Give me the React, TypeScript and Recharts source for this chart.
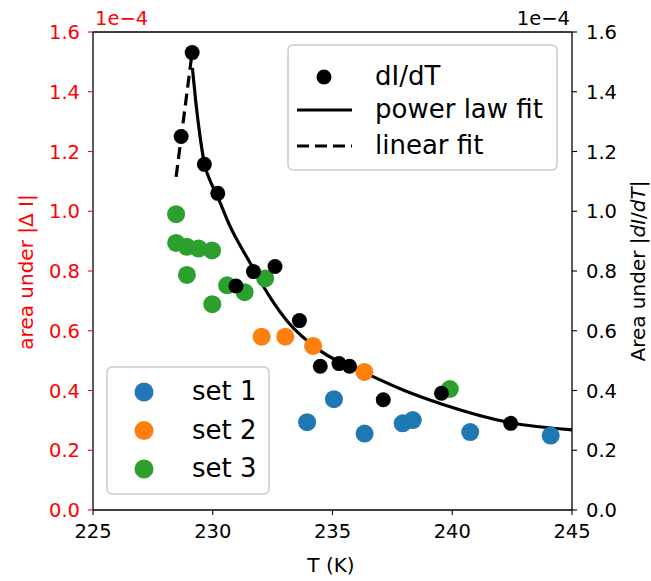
import React from 'react';
import { ComposedChart, XAxis, YAxis, Scatter, Line, ReferenceLine } from 'recharts';

// ---- tick values ----
const xTicks = [225, 230, 235, 240, 245];
const yTicks = [0, 0.2, 0.4, 0.6, 0.8, 1.0, 1.2, 1.4, 1.6];

// ---- set 1 (blue) ----
const set1T = [233.94, 235.06, 236.34, 237.93, 238.35, 240.75, 244.11];
const set1A = [0.294, 0.371, 0.256, 0.29, 0.301, 0.261, 0.249];

// ---- set 2 (orange) ----
const set2T = [232.04, 233.03, 234.19, 236.33];
const set2A = [0.58, 0.58, 0.549, 0.462];

// ---- set 3 (green) ----
const set3T = [228.47, 228.47, 228.92, 229.41, 229.97, 228.92, 229.98, 230.6, 231.33, 232.19, 239.9];
const set3A = [0.99, 0.894, 0.881, 0.875, 0.869, 0.787, 0.689, 0.752, 0.729, 0.775, 0.405];

// ---- dI/dT (black) ----
const dIdtT = [229.14, 228.68, 229.65, 230.21, 230.97, 231.7, 232.6, 233.62, 234.49, 235.27, 235.71, 237.12, 239.55, 242.44];
const dIdtA = [1.531, 1.25, 1.157, 1.06, 0.75, 0.798, 0.815, 0.634, 0.481, 0.49, 0.481, 0.369, 0.391, 0.29];

// ---- power law fit ----
const powerT = [229.15, 229.3, 229.47, 229.65, 229.9, 230.14, 230.72, 231.61, 232.41, 233.13, 234.54, 236.33, 238.0, 239.55, 242.45, 245.0];
const powerA = [1.48, 1.36, 1.25, 1.16, 1.1, 1.06, 0.95, 0.82, 0.71, 0.63, 0.53, 0.46, 0.4, 0.355, 0.292, 0.268];

// ---- linear fit ----
const linT = [228.47, 229.12];
const linA = [1.115, 1.52];

// ---- legend labels ----
const setNames = ['set 1', 'set 2', 'set 3'];
const setColors = ['#1f77b4', '#ff7f0e', '#2ca02c'];
const fitNames = ['dI/dT', 'power law fit', 'linear fit'];

const zip = (t: number[], a: number[]) => t.map((T, i) => ({ T, A: a[i] }));

const set1 = zip(set1T, set1A);
const set2 = zip(set2T, set2A);
const set3 = zip(set3T, set3A);
const dIdt = zip(dIdtT, dIdtA);
const power = zip(powerT, powerA);
const lin = zip(linT, linA);

const FONT = 'DejaVu Sans, sans-serif';
const TICK_FS = 19.5;
const TITLE_FS = 20;
const LEG_FS = 26;

const dot = (fill: string, r: number) => (props: any) =>
  props.cx == null ? null : <circle cx={props.cx} cy={props.cy} r={r} fill={fill} />;

const LeftTick = (props: any) => {
  const { x, y, payload } = props;
  return (
    <text x={x} y={y} dy="0.36em" textAnchor="end" fill="#ff0000" fontSize={TICK_FS} fontFamily={FONT}>
      {payload.value.toFixed(1)}
    </text>
  );
};
const RightTick = (props: any) => {
  const { x, y, payload } = props;
  return (
    <text x={x} y={y} dy="0.36em" textAnchor="start" fill="#000" fontSize={TICK_FS} fontFamily={FONT}>
      {payload.value.toFixed(1)}
    </text>
  );
};
const BottomTick = (props: any) => {
  const { x, y, payload } = props;
  return (
    <text x={x} y={y} dy="0.73em" textAnchor="middle" fill="#000" fontSize={TICK_FS} fontFamily={FONT}>
      {payload.value}
    </text>
  );
};

const Decorations = () => (
  <g fontFamily={FONT}>
    {/* offset texts */}
    <text x={95} y={25} fill="#ff0000" fontSize={TICK_FS}>1e−4</text>
    <text x={570} y={25} fill="#000" fontSize={TICK_FS} textAnchor="end">1e−4</text>
    {/* axis titles */}
    <text x={331} y={572} textAnchor="middle" fontSize={TITLE_FS} fill="#000">T (K)</text>
    <text
      transform="translate(26,272) rotate(-90)"
      dy="0.36em"
      textAnchor="middle"
      fontSize={TITLE_FS}
      fill="#ff0000"
    >
      area under |Δ I|
    </text>
    <text
      transform="translate(638,271) rotate(-90)"
      dy="0.36em"
      textAnchor="middle"
      fontSize={TITLE_FS}
      fill="#000"
    >
      Area under |<tspan fontStyle="italic">dI</tspan>/<tspan fontStyle="italic">dT</tspan>|
    </text>

    {/* top-right legend */}
    <rect x={288} y={45} width={269} height={125} rx={5} fill="#fff" fillOpacity={0.8} stroke="#cccccc" strokeWidth={1.5} />
    <circle cx={324} cy={77} r={7.5} fill="#000" />
    <line x1={297} y1={110} x2={352} y2={110} stroke="#000" strokeWidth={3.2} />
    <line x1={297} y1={146} x2={352} y2={146} stroke="#000" strokeWidth={3.2} strokeDasharray="12 6" />
    {fitNames.map((n, i) => (
      <text key={n} x={375} y={[76, 109, 145][i]} dy="0.36em" fontSize={LEG_FS} fill="#000">
        {n}
      </text>
    ))}

    {/* bottom-left legend */}
    <rect x={107} y={367} width={162} height={127} rx={5} fill="#fff" fillOpacity={0.8} stroke="#cccccc" strokeWidth={1.5} />
    {setNames.map((n, i) => (
      <g key={n}>
        <circle cx={144} cy={392 + i * 38.5} r={9.5} fill={setColors[i]} />
        <text x={192} y={391 + i * 38.5} dy="0.36em" fontSize={LEG_FS} fill="#000">
          {n}
        </text>
      </g>
    ))}
  </g>
);

export default function App() {
  return (
    <div style={{ position: 'absolute', left: 0, top: 0, width: 651, height: 581, background: '#fff' }}>
      <ComposedChart width={651} height={581} margin={{ top: 32, right: 0, bottom: 0, left: 0 }}>
        <XAxis
          dataKey="T"
          type="number"
          domain={[225, 245]}
          ticks={xTicks}
          allowDataOverflow
          height={71}
          tickSize={5}
          tickMargin={9}
          axisLine={{ stroke: '#000', strokeWidth: 1.3 }}
          tickLine={{ stroke: '#000', strokeWidth: 1.1 }}
          tick={<BottomTick />}
        />
        <YAxis
          yAxisId="left"
          orientation="left"
          type="number"
          domain={[0, 1.6]}
          ticks={yTicks}
          width={93}
          tickSize={5}
          tickMargin={8}
          allowDataOverflow
          axisLine={{ stroke: '#000', strokeWidth: 1.3 }}
          tickLine={{ stroke: '#ff0000', strokeWidth: 1.1 }}
          tick={<LeftTick />}
        />
        <YAxis
          yAxisId="right"
          orientation="right"
          type="number"
          domain={[0, 1.6]}
          ticks={yTicks}
          width={79}
          tickSize={5}
          tickMargin={9}
          allowDataOverflow
          axisLine={{ stroke: '#000', strokeWidth: 1.3 }}
          tickLine={{ stroke: '#000', strokeWidth: 1.1 }}
          tick={<RightTick />}
        />
        <ReferenceLine yAxisId="left" y={1.6} stroke="#000" strokeWidth={1.3} />

        <Scatter yAxisId="left" data={set1} dataKey="A" shape={dot('#1f77b4', 9)} isAnimationActive={false} />
        <Scatter yAxisId="left" data={set2} dataKey="A" shape={dot('#ff7f0e', 9)} isAnimationActive={false} />
        <Scatter yAxisId="left" data={set3} dataKey="A" shape={dot('#2ca02c', 9)} isAnimationActive={false} />
        <Scatter yAxisId="right" data={dIdt} dataKey="A" shape={dot('#000', 7.5)} isAnimationActive={false} />
        <Line
          yAxisId="right"
          data={power}
          dataKey="A"
          type="monotone"
          stroke="#000"
          strokeWidth={3.2}
          dot={false}
          activeDot={false}
          isAnimationActive={false}
        />
        <Line
          yAxisId="right"
          data={lin}
          dataKey="A"
          type="linear"
          stroke="#000"
          strokeWidth={3.2}
          strokeDasharray="12 6"
          dot={false}
          activeDot={false}
          isAnimationActive={false}
        />
        <Decorations />
      </ComposedChart>
    </div>
  );
}
